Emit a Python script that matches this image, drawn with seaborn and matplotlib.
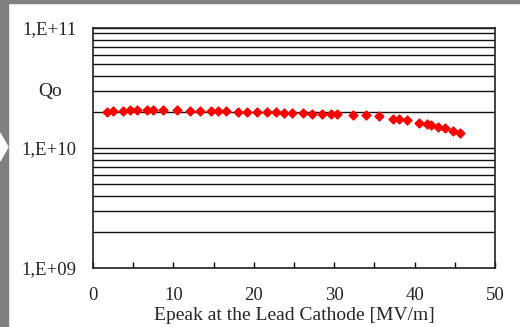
import numpy
import pandas
import seaborn
import matplotlib

matplotlib.use("Agg")
import matplotlib.pyplot as plt
from matplotlib.patches import Rectangle, Polygon
from matplotlib.ticker import LogLocator, MultipleLocator, FixedLocator, NullFormatter

# data
epeak = [
    1.8, 2.5, 3.7, 4.6, 5.5, 6.7, 7.5, 8.7, 10.4, 12.1, 13.3, 14.7, 15.5,
    16.5, 18.0, 19.1, 20.4, 21.6, 22.7, 23.8, 24.7, 26.1, 27.3, 28.5, 29.6,
    30.4, 32.3, 34.0, 35.6, 37.3, 38.0, 39.0, 40.6, 41.5, 42.1, 42.9, 43.8,
    44.8, 45.7,
]
qo = [
    2.00e10, 2.02e10, 2.04e10, 2.06e10, 2.08e10, 2.08e10, 2.08e10, 2.07e10,
    2.06e10, 2.05e10, 2.05e10, 2.04e10, 2.03e10, 2.02e10, 2.01e10, 2.00e10,
    2.00e10, 1.99e10, 1.98e10, 1.97e10, 1.97e10, 1.95e10, 1.93e10, 1.92e10,
    1.91e10, 1.91e10, 1.90e10, 1.87e10, 1.85e10, 1.75e10, 1.73e10, 1.71e10,
    1.62e10, 1.58e10, 1.55e10, 1.50e10, 1.47e10, 1.39e10, 1.34e10,
]
ytick_values = [1e9, 1e10, 1e11]
ytick_labels = ["1,E+09", "1,E+10", "1,E+11"]
xtick_values = [0, 10, 20, 30, 40, 50]

df = pandas.DataFrame({"epeak": epeak, "qo": qo})

seaborn.set_style("white")
plt.rcParams["font.family"] = ["Liberation Serif", "DejaVu Serif"]

fig = plt.figure(figsize=(5.2, 3.27), dpi=100)
fig.patch.set_facecolor("white")

# gray frame of the slide
gray = "#808080"
fig.patches.append(Rectangle((0, 0), 8 / 520, 1, transform=fig.transFigure, color=gray, zorder=0))
fig.patches.append(Rectangle((0, 1 - 3 / 327), 1, 3 / 327, transform=fig.transFigure, color=gray, zorder=0))
fig.patches.append(
    Polygon(
        [(0, 1 - 133 / 327), (8 / 520, 1 - 147 / 327), (0, 1 - 161 / 327)],
        closed=True, transform=fig.transFigure, color="white", zorder=1,
    )
)

ax = fig.add_axes([93 / 520, (327 - 268) / 327, (495 - 93) / 520, (268 - 28) / 327])
ax.set_facecolor("white")

seaborn.scatterplot(
    data=df, x="epeak", y="qo", ax=ax, color="red", marker="D",
    s=22, edgecolor="red", linewidth=0.8, zorder=3, legend=False,
)

# axis settings
ax.set_yscale("log")
ax.set(xlim=(0, 50), ylim=(1e9, 1e11))
ax.yaxis.set_major_locator(FixedLocator(ytick_values))
ax.set_yticklabels(ytick_labels)
ax.yaxis.set_minor_locator(LogLocator(base=10, subs=numpy.arange(2, 10)))
ax.yaxis.set_minor_formatter(NullFormatter())
ax.xaxis.set_major_locator(FixedLocator(xtick_values))
ax.xaxis.set_minor_locator(MultipleLocator(5))

ax.grid(True, axis="y", which="both", color="#111111", linewidth=1.0)
ax.grid(False, axis="x")

ax.tick_params(axis="y", which="both", length=0, pad=12, labelsize=13.5)
ax.tick_params(axis="x", which="both", direction="in", length=4, width=1,
               color="black", pad=14, labelsize=13.5, top=False, bottom=True)

for spine in ax.spines.values():
    spine.set_color("#222222")
    spine.set_linewidth(1.2)

ax.set_ylabel("")
ax.set_xlabel("Epeak at the Lead Cathode [MV/m]", fontsize=14, labelpad=2)
fig.text(50 / 520, 1 - 92 / 327, "Qo", ha="center", va="center", fontsize=14)

fig.savefig("out.png", dpi=100)
